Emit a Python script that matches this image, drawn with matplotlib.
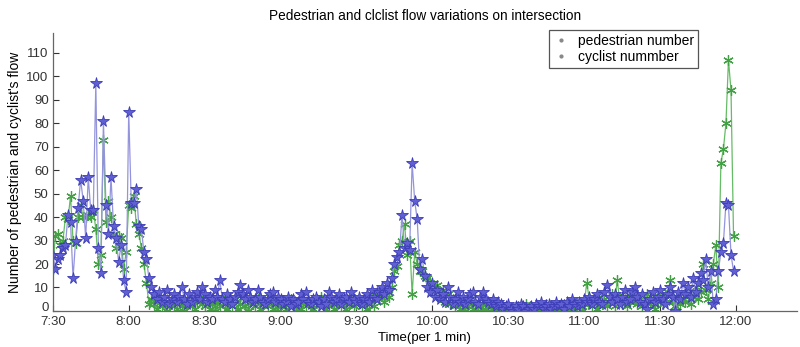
import matplotlib.pyplot as plt
import matplotlib.transforms as mtransforms
from matplotlib.lines import Line2D
import numpy as np

plt.rcParams['font.family'] = ['Liberation Sans', 'DejaVu Sans']

# one value per minute, 7:30 -> 11:59
pedestrian = [
    24, 18, 22, 24, 27, 28, 41, 38, 14, 30,
    44, 56, 47, 31, 57, 43, 43, 97, 27, 16,
    81, 45, 33, 57, 36, 31, 21, 28, 13, 8,
    85, 46, 46, 52, 36, 35, 25, 22, 14, 10,
    7, 5, 8, 4, 6, 9, 3, 5, 7, 4,
    6, 10, 5, 3, 7, 4, 6, 8, 5, 10,
    7, 4, 6, 5, 9, 6, 13, 5, 4, 7,
    5, 3, 6, 8, 11, 7, 5, 9, 6, 4,
    5, 9, 6, 4, 3, 5, 7, 8, 4, 6,
    5, 3, 4, 6, 2, 5, 3, 4, 7, 5,
    8, 4, 3, 5, 6, 4, 2, 5, 3, 8,
    6, 4, 5, 7, 3, 5, 6, 4, 8, 5,
    4, 6, 3, 5, 7, 4, 9, 6, 5, 8,
    10, 7, 12, 9, 14, 20, 23, 25, 41, 27,
    29, 26, 63, 47, 39, 18, 22, 15, 10, 8,
    12, 6, 9, 5, 7, 4, 10, 6, 3, 5,
    8, 4, 6, 3, 5, 7, 8, 4, 3, 6,
    8, 5, 4, 3, 5, 2, 4, 3, 1, 2,
    3, 1, 0, 2, 1, 3, 2, 0, 1, 2,
    1, 3, 2, 4, 1, 2, 3, 1, 2, 4,
    2, 3, 1, 4, 2, 5, 3, 2, 4, 3,
    5, 4, 6, 3, 5, 7, 4, 3, 8, 11,
    6, 4, 7, 5, 3, 6, 9, 4, 5, 8,
    10, 6, 4, 7, 3, 1, 5, 8, 4, 6,
    9, 5, 3, 7, 10, 6, 0, 8, 5, 12,
    7, 10, 6, 14, 8, 12, 16, 13, 22, 10,
    17, 3, 5, 17, 25, 29, 46, 45, 24, 17,
]

cyclist = [
    18, 32, 33, 28, 30, 40, 39, 49, 30, 29,
    40, 45, 40, 40, 41, 40, 43, 35, 20, 24,
    73, 38, 47, 40, 33, 27, 32, 31, 18, 25,
    45, 44, 49, 37, 33, 27, 20, 12, 3, 5,
    3, 1, 6, 2, 4, 0, 3, 5, 2, 1,
    4, 2, 0, 3, 5, 2, 1, 4, 6, 3,
    2, 5, 1, 3, 0, 4, 2, 6, 3, 1,
    4, 2, 5, 1, 3, 6, 2, 0, 4, 3,
    2, 5, 1, 3, 4, 2, 6, 1, 3, 0,
    2, 4, 1, 3, 5, 2, 0, 3, 1, 4,
    2, 5, 3, 1, 4, 2, 6, 3, 1, 2,
    4, 1, 3, 5, 2, 4, 1, 3, 6, 2,
    3, 5, 2, 4, 1, 3, 6, 2, 8, 5,
    7, 4, 9, 6, 10, 17, 19, 28, 30, 37,
    24, 30, 7, 25, 20, 17, 17, 15, 14, 12,
    10, 8, 11, 6, 9, 4, 7, 3, 5, 2,
    4, 1, 3, 0, 2, 5, 1, 3, 0, 2,
    1, 3, 0, 2, 1, 0, 2, 1, 0, 1,
    2, 0, 1, 0, 2, 1, 0, 3, 1, 0,
    1, 0, 2, 1, 0, 3, 1, 2, 0, 1,
    2, 1, 3, 0, 2, 4, 1, 3, 2, 0,
    3, 12, 5, 2, 4, 1, 6, 3, 5, 2,
    4, 7, 2, 13, 5, 3, 6, 2, 4, 8,
    5, 3, 6, 2, 4, 7, 3, 5, 1, 4,
    6, 3, 5, 8, 13, 4, 2, 6, 3, 5,
    4, 8, 3, 6, 10, 5, 8, 20, 9, 5,
    12, 20, 28, 10, 63, 69, 80, 107, 94, 32,
]

tick_min = [0, 30, 60, 90, 120, 150, 180, 210, 240, 270]
tick_labels = ['7:30', '8:00', '8:30', '9:00', '9:30', '10:00', '10:30', '11:00', '11:30', '12:00']

minutes = np.arange(len(pedestrian))

fig = plt.figure(figsize=(8, 3.47), dpi=100)
ax = fig.add_axes([0.066, 0.104, 0.93, 0.801])

asterisk = (6, 2, 0)
ax.plot(minutes, cyclist, color='#66bb66', lw=0.9, marker=asterisk,
        markersize=7.5, markeredgecolor='#44a044', markeredgewidth=0.9)
ax.plot(minutes, pedestrian, color='#9494dc', lw=0.9, marker='*',
        markersize=8.5, markerfacecolor='#6060d2', markeredgecolor='#3c3cb8',
        markeredgewidth=0.6)

ax.set_xlim(0, 294)
ax.set_ylim(0, 118.5)
ax.set_xticks(tick_min)
ax.set_xticklabels(tick_labels)
ax.set_yticks(np.arange(0, 111, 10))
ax.tick_params(direction='in', length=4, labelsize=9.5, colors='#333333', width=0.8)
ax.tick_params(axis='x', pad=4)
ax.tick_params(axis='y', pad=3)
for s in ['top', 'right']:
    ax.spines[s].set_visible(False)
for s in ['left', 'bottom']:
    ax.spines[s].set_color('#666666')
    ax.spines[s].set_linewidth(0.9)

# lift the "0" a little so it sits above "7:30"
zero_lbl = ax.get_yticklabels()[0]
zero_lbl.set_transform(zero_lbl.get_transform() +
                       mtransforms.ScaledTranslation(0, 3 / 72, fig.dpi_scale_trans))

ax.set_title('Pedestrian and clclist flow variations on intersection', fontsize=9.8, pad=9)
ax.set_xlabel('Time(per 1 min)', fontsize=9.5, va='center')
ax.xaxis.set_label_coords(0.5, -0.097)
ax.set_ylabel("Number of pedestrian and cyclist's flow", fontsize=10, labelpad=3)

handles = [Line2D([], [], ls='none', marker='.', markersize=4, color='#888888'),
           Line2D([], [], ls='none', marker='.', markersize=4, color='#888888')]
leg = ax.legend(handles, ['pedestrian number', 'cyclist nummber'], loc='upper right',
                bbox_to_anchor=(0.8725, 0.9135), bbox_transform=fig.transFigure,
                fontsize=10, fancybox=False, framealpha=1, handlelength=1.2,
                borderpad=0.3, labelspacing=0.1, handletextpad=0.6, borderaxespad=0)
leg.get_frame().set_edgecolor('#555555')
leg.get_frame().set_linewidth(0.9)

fig.savefig('out.png', dpi=100)
